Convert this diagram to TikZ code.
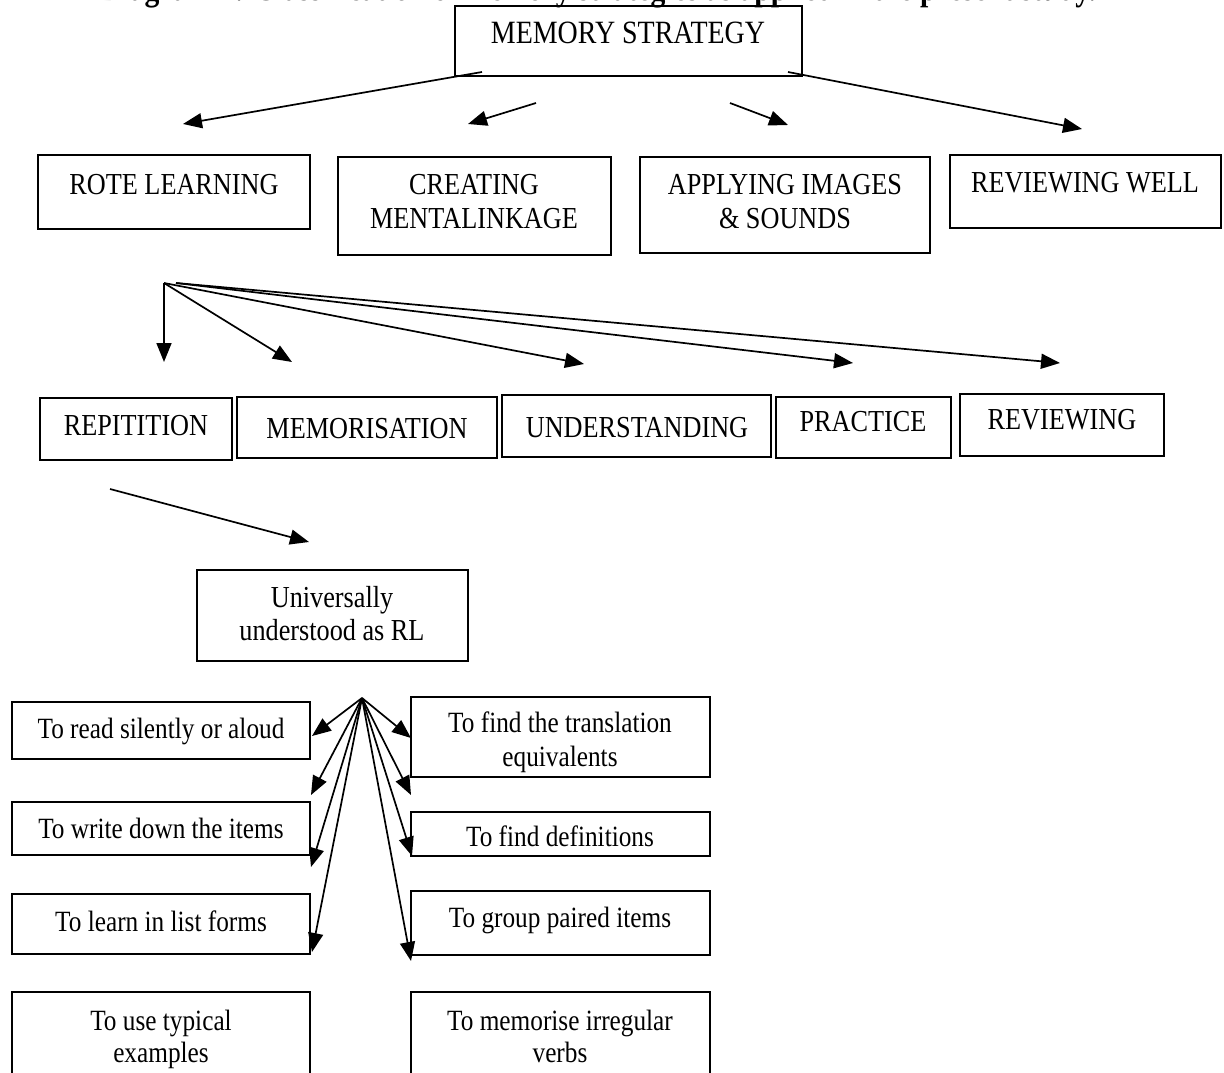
\documentclass[tikz,border=0pt]{standalone}
\usepackage{fontspec}
\setmainfont{Liberation Serif}[FakeStretch=0.86]
\usetikzlibrary{arrows.meta,fit}
\tikzset{
  boxn/.style={draw, line width=1.8pt, inner sep=0pt},
  lbl/.style={anchor=base, inner sep=0pt, font=\fontsize{30.5}{34}\selectfont},
  lbls/.style={anchor=base, inner sep=0pt, font=\fontsize{29.4}{34}\selectfont},
  lblb/.style={anchor=base, inner sep=0pt, font=\fontsize{32.5}{36}\selectfont},
  ttl/.style={anchor=base, inner sep=0pt, font=\fontsize{34.5}{36}\selectfont\bfseries},
  arr/.style={line width=1.7pt, -{Triangle[length=19pt,width=15pt]}}
}
\begin{document}
\begin{tikzpicture}[x=1pt,y=-1pt]
\useasboundingbox (0,0) rectangle (1224,1073);
\begin{scope}
\clip (0,0) rectangle (1224,1073);
\node[ttl] (title) at (598,1) {Diagram 2: Classification of memory strategies as applied in the present study.};

% boxes
\node[boxn, fit={(455,6) (802,76)}] (mem) {};
\node[boxn, fit={(38,155) (310,229)}] (rote) {};
\node[boxn, fit={(338,157) (611,255)}] (crea) {};
\node[boxn, fit={(640,157) (930,253)}] (appl) {};
\node[boxn, fit={(950,155) (1221,228)}] (revw) {};
\node[boxn, fit={(40,398) (232,460)}] (rep) {};
\node[boxn, fit={(237,397) (497,458)}] (memo) {};
\node[boxn, fit={(502,395) (771,457)}] (und) {};
\node[boxn, fit={(776,397) (951,458)}] (prac) {};
\node[boxn, fit={(960,394) (1164,456)}] (rev) {};
\node[boxn, fit={(197,570) (468,661)}] (univ) {};
\node[boxn, fit={(12,702) (310,759)}] (read) {};
\node[boxn, fit={(411,697) (710,777)}] (trans) {};
\node[boxn, fit={(12,802) (310,855)}] (write) {};
\node[boxn, fit={(411,812) (710,856)}] (defi) {};
\node[boxn, fit={(12,894) (310,954)}] (list) {};
\node[boxn, fit={(411,891) (710,955)}] (grp) {};
\node[boxn, fit={(12,992) (310,1100)}] (typ) {};
\node[boxn, fit={(411,992) (710,1100)}] (irr) {};

% texts
\node[lblb] (tmem) at (628,44) {MEMORY STRATEGY};
\node[lbl] (trote) at (174,194) {ROTE LEARNING};
\node[lbl] (tcrea1) at (474,194) {CREATING};
\node[lbl] (tcrea2) at (474,228) {MENTALINKAGE};
\node[lbl] (tappl1) at (785,194) {APPLYING IMAGES};
\node[lbl] (tappl2) at (785,228) {\& SOUNDS};
\node[lbl] (trevw) at (1085,192) {REVIEWING WELL};
\node[lbl] (trep) at (136,435) {REPITITION};
\node[lbl] (tmemo) at (367,438) {MEMORISATION};
\node[lbl] (tund) at (637,437) {UNDERSTANDING};
\node[lbl] (tprac) at (863,431) {PRACTICE};
\node[lbl] (trev) at (1062,429) {REVIEWING};
\node[lbl] (tuniv1) at (332,607) {Universally};
\node[lbl] (tuniv2) at (332,640) {understood as RL};
\node[lbls] (tread) at (161,738) {To read silently or aloud};
\node[lbls] (ttrans1) at (560,732) {To find the translation};
\node[lbls] (ttrans2) at (560,766) {equivalents};
\node[lbls] (twrite) at (161,838) {To write down the items};
\node[lbls] (tdefi) at (560,846) {To find definitions};
\node[lbls] (tlist) at (161,931) {To learn in list forms};
\node[lbls] (tgrp) at (560,927) {To group paired items};
\node[lbls] (ttyp1) at (161,1030) {To use typical};
\node[lbls] (ttyp2) at (161,1062) {examples};
\node[lbls] (tirr1) at (560,1030) {To memorise irregular};
\node[lbls] (tirr2) at (560,1062) {verbs};
\end{scope}

% connector end points
\coordinate (s1) at (482,72);  \coordinate (e1) at (183,124);
\coordinate (s2) at (536,103); \coordinate (e2) at (468,124);
\coordinate (s3) at (730,103); \coordinate (e3) at (788,125);
\coordinate (s4) at (788,72);  \coordinate (e4) at (1082,129);
\coordinate (fa) at (164,283); \coordinate (fb) at (176,283);
\coordinate (f1) at (164,362); \coordinate (f2) at (292,362);
\coordinate (f3) at (584,364); \coordinate (f4) at (853,363);
\coordinate (f5) at (1060,363);
\coordinate (rs) at (110,489); \coordinate (re) at (309,542);
\coordinate (ga) at (362,698);
\coordinate (g1) at (312,736); \coordinate (g2) at (411,738);
\coordinate (g3) at (311,795); \coordinate (g4) at (411,795);
\coordinate (g5) at (311,867); \coordinate (g6) at (412,856);
\coordinate (g7) at (312,952); \coordinate (g8) at (411,961);

\draw[arr] (s1) -- (e1);
\draw[arr] (s2) -- (e2);
\draw[arr] (s3) -- (e3);
\draw[arr] (s4) -- (e4);
\draw[arr] (fa) -- (f1);
\draw[arr] (fa) -- (f2);
\draw[arr] (fa) -- (f3);
\draw[arr] (fb) -- (f4);
\draw[arr] (fb) -- (f5);
\draw[arr] (rs) -- (re);
\foreach \t in {g1,g2,g3,g4,g5,g6,g7,g8} \draw[arr] (ga) -- (\t);
\end{tikzpicture}
\end{document}
